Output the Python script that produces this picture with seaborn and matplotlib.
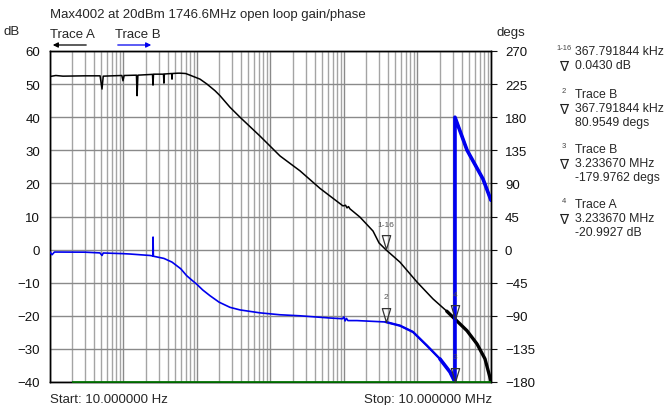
import numpy as np
import pandas as pd
import matplotlib
matplotlib.use("Agg")
import matplotlib.pyplot as plt
import seaborn as sns
from matplotlib.ticker import LogLocator, FixedLocator, NullFormatter
from matplotlib.path import Path

# ---------------- data ----------------
gain_freq = [10, 12, 15, 30, 48, 51, 53, 70, 95, 98.4, 102, 150, 153, 157, 230, 248, 252, 256,
             350, 355, 360, 452, 457, 462, 551, 587, 700, 803, 1099, 1368, 1758, 2056, 2812,
             3846, 7194, 13460, 25180, 47100, 96800, 105000, 110000, 115000, 120700, 165200,
             248300, 300000, 367791.844, 578000, 984000, 1.625e6, 2.5e6, 3.23367e6,
             4.71e6, 6.45e6, 8.28e6, 1e7]
gain_db = [52.3, 52.6, 52.4, 52.5, 52.5, 48.5, 52.4, 52.5, 52.6, 51.0, 52.6, 52.7, 46.5, 52.7,
           52.9, 52.95, 49.7, 53.0, 53.0, 50.3, 53.05, 53.2, 51.5, 53.2, 53.3, 53.3, 53.2,
           52.7, 51.5, 50.0, 48.0, 46.5, 43.0, 40.0, 34.3, 28.3, 23.8, 18.5, 13.2, 13.4,
           12.6, 13.0, 12.3, 9.8, 5.6, 2.0, 0.043, -3.8, -9.8, -14.9, -18.6, -20.99, -24.5,
           -28.5, -33.0, -39.8]

phase_freq = [10, 10.65, 11.5, 30, 47.8, 51, 53, 98, 122, 230, 252, 252.5, 255, 355, 457,
              600, 724, 850, 990, 1200, 1503, 2000, 2812, 3846, 7194, 13460, 25180, 64500,
              95000, 100000, 103300, 108000, 113000, 150000, 367791.844, 578000, 869000,
              1.346e6, 2.023e6, 2.768e6, 3.23367e6, 3.23367e6, 4.71e6, 7.78e6, 1e7]
phase_deg = [-3.3, -7.0, -3.3, -3.5, -4.5, -8.0, -4.6, -5.5, -6.0, -8.0, -8.7, 17.0, -9.0,
             -12.0, -17.0, -26.0, -35.5, -41.5, -47.0, -55.0, -62.7, -71.5, -78.5, -82.0,
             -86.0, -88.6, -90.0, -93.0, -94.0, -91.5, -97.0, -93.5, -96.5, -96.5, -98.4,
             -103.4, -112.0, -130.6, -148.7, -166.4, -179.98, 180.0, 135.4, 96.0, 67.0]

marker_label = ["1-16", "2", "3", "4"]
marker_trace = ["A", "B", "B", "A"]
marker_freq = [367791.844, 367791.844, 3233670.0, 3233670.0]
marker_val = [0.043, -98.4, -179.9762, -20.9927]

readout_tag = ["1-16", "2", "3", "4"]
readout_lines = [
    ["367.791844 kHz", "0.0430 dB"],
    ["Trace B", "367.791844 kHz", "80.9549 degs"],
    ["Trace B", "3.233670 MHz", "-179.9762 degs"],
    ["Trace A", "3.233670 MHz", "-20.9927 dB"],
]

left_ticks = list(range(-40, 61, 10))
right_ticks = list(range(-180, 271, 45))

title = "Max4002 at 20dBm 1746.6MHz open loop gain/phase"

# ---------------- style ----------------
sns.set_style("white")
plt.rcParams["font.family"] = ["Liberation Sans", "DejaVu Sans"]
W, H = 668, 406
FS = 9.5

fig = plt.figure(figsize=(W / 100, H / 100), dpi=100)
ax = fig.add_axes([50 / W, (H - 383) / H, 441 / W, 331 / H])
ax.set_xscale("log")
ax2 = ax.twinx()

dfA = pd.DataFrame({"freq": gain_freq, "val": gain_db})
dfB = pd.DataFrame({"freq": phase_freq, "val": phase_deg})

BLUE = "#0000ee"
sns.lineplot(data=dfA, x="freq", y="val", ax=ax, color="black", lw=1.1,
             estimator=None, sort=False, legend=False, zorder=3)
sns.lineplot(data=dfA[dfA.freq >= 2.0e6], x="freq", y="val", ax=ax, color="black", lw=2.4,
             estimator=None, sort=False, legend=False, zorder=3)
sns.lineplot(data=dfB, x="freq", y="val", ax=ax2, color=BLUE, lw=1.2,
             estimator=None, sort=False, legend=False, zorder=3)
sns.lineplot(data=dfB[dfB.freq >= 3.0e5], x="freq", y="val", ax=ax2, color=BLUE, lw=1.7,
             estimator=None, sort=False, legend=False, zorder=3)
sns.lineplot(data=dfB[dfB.freq >= 1.5e6], x="freq", y="val", ax=ax2, color=BLUE, lw=2.6,
             estimator=None, sort=False, legend=False, zorder=3)

# axes ranges
ax.set_xlim(10, 1e7)
ax.set_ylim(-40, 60)
ax2.set_ylim(-180, 270)
ax.set_xlabel("")
ax.set_ylabel("")
ax2.set_ylabel("")

# grid
ax.xaxis.set_major_locator(LogLocator(base=10, numticks=20))
ax.xaxis.set_minor_locator(LogLocator(base=10, subs=np.arange(2, 10), numticks=100))
ax.xaxis.set_major_formatter(NullFormatter())
ax.xaxis.set_minor_formatter(NullFormatter())
ax.yaxis.set_major_locator(FixedLocator(left_ticks))
ax2.yaxis.set_major_locator(FixedLocator(right_ticks))
ax.grid(True, which="major", axis="both", color="#8a8a8a", lw=1.0)
ax.grid(True, which="minor", axis="x", color="#a4a4a4", lw=1.0)
ax2.grid(False)
ax.set_axisbelow(True)
ax.tick_params(axis="x", which="both", length=0)
ax.tick_params(axis="y", length=0, pad=7, labelsize=FS, colors="#111111")
ax2.tick_params(axis="y", length=4, width=0.8, direction="out", pad=6, labelsize=FS,
                colors="#111111")
for a in (ax, ax2):
    for s in a.spines.values():
        s.set_color("black")
        s.set_linewidth(1.0)

# green baseline at bottom (drawn above the spine)
ax2.plot([20, 1e7], [-40, -40], color="#007a00", lw=1.2, zorder=10, clip_on=False,
         transform=ax.transData, solid_capstyle="butt")

# markers (triangle with tip on the trace)
tri = Path([(0, 0), (-0.36, 1.2), (0.36, 1.2), (0, 0)],
           [Path.MOVETO, Path.LINETO, Path.LINETO, Path.CLOSEPOLY])
for lab, tr, f, v in zip(marker_label, marker_trace, marker_freq, marker_val):
    tf = ax.transData if tr == "A" else ax2.transData
    ax2.plot([f], [v], marker=tri, ms=20, mfc="none", mec="#333333", mew=0.9,
             ls="none", transform=tf, zorder=11, clip_on=False)
    ax2.annotate(lab, xy=(f, v), xycoords=tf, xytext=(0, 18), textcoords="offset points",
                 ha="center", va="center", fontsize=6, color="#555555", zorder=11)

# header texts
def ftext(x, y, s, **kw):
    fig.text(x / W, 1 - y / H, s, **kw)

ftext(50, 15, title, fontsize=FS, va="center", ha="left")
ftext(3, 32, "dB", fontsize=FS, va="center", ha="left")
ftext(497, 33, "degs", fontsize=FS, va="center", ha="left")
ftext(50, 35, "Trace A", fontsize=FS, va="center", ha="left")
ftext(115, 35, "Trace B", fontsize=FS, va="center", ha="left")
fig.add_artist(matplotlib.patches.FancyArrowPatch(
    (89 / W, 1 - 46 / H), (50 / W, 1 - 46 / H), transform=fig.transFigure,
    arrowstyle="-|>,head_length=3,head_width=1.5", color="black", lw=0.9))
fig.add_artist(matplotlib.patches.FancyArrowPatch(
    (115 / W, 1 - 46 / H), (154 / W, 1 - 46 / H), transform=fig.transFigure,
    arrowstyle="-|>,head_length=3,head_width=1.5", color=BLUE, lw=0.9))
ftext(50, 400, "Start: 10.000000 Hz", fontsize=FS, va="center", ha="left")
ftext(492, 400, "Stop: 10.000000 MHz", fontsize=FS, va="center", ha="right")

# marker readout block
RFS = 8.8
row_tops = [52, 95, 150, 205]
for tag, lines, y0 in zip(readout_tag, readout_lines, row_tops):
    ftext(564, y0 - 3, tag, fontsize=5.5, ha="center", va="center", color="#444444")
    for i, s in enumerate(lines):
        ftext(575, y0 + i * 14.2, s, fontsize=RFS, ha="left", va="center")
    ftext(564, y0 + 14.2 + 1, "\u2207", fontsize=RFS + 1, ha="center",
          va="center", family=["DejaVu Sans"], color="#222222")

fig.savefig("out.png", dpi=100)
